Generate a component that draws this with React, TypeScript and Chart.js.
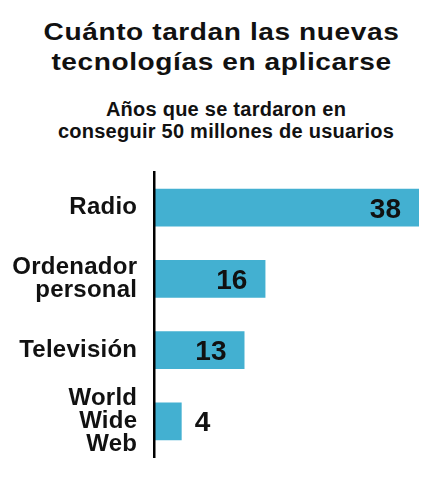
import { useEffect, useRef } from "react";
import Chart from "chart.js/auto";

const categories: (string | string[])[] = [
  "Radio",
  ["Ordenador", "personal"],
  "Televisión",
  ["World", "Wide", "Web"],
];
const years = [38, 16, 13, 4];
const xMax = 38;

const titleLines = ["Cuánto tardan las nuevas", "tecnologías en aplicarse"];
const subtitleLines = ["Años que se tardaron en", "conseguir 50 millones de usuarios"];

const FONT = '"Liberation Sans", Arial, Helvetica, sans-serif';
const BAR = "#43b0d1";
const INK = "#111";

// a touch of tracking, like the original lettering
const tracking = {
  id: "tracking",
  beforeDraw(chart: any) {
    chart.ctx.letterSpacing = "0.25px";
  },
};

const valueLabels = {
  id: "valueLabels",
  afterDatasetsDraw(chart: any) {
    const ctx = chart.ctx;
    const meta = chart.getDatasetMeta(0);
    ctx.save();
    ctx.letterSpacing = "0px";
    ctx.font = `bold 28px ${FONT}`;
    ctx.fillStyle = INK;
    ctx.textBaseline = "alphabetic";
    meta.data.forEach((bar: any, i: number) => {
      const text = String(years[i]);
      const w = ctx.measureText(text).width;
      const len = bar.x - bar.base;
      if (len > w + 36) {
        ctx.textAlign = "right";
        ctx.fillText(text, bar.x - 18, bar.y + 10);
      } else {
        ctx.textAlign = "left";
        ctx.fillText(text, bar.x + 13, bar.y + 10);
      }
    });
    ctx.restore();
  },
};

export default function App() {
  const ref = useRef<HTMLCanvasElement>(null);

  useEffect(() => {
    if (!ref.current) return;
    const ctx = ref.current.getContext("2d");
    if (!ctx) return;

    const chart = new Chart(ctx, {
      type: "bar",
      data: {
        labels: categories,
        datasets: [
          {
            data: years,
            backgroundColor: BAR,
            borderWidth: 0,
            barPercentage: 0.533,
            categoryPercentage: 1,
          },
        ],
      },
      options: {
        indexAxis: "y",
        animation: false,
        responsive: true,
        maintainAspectRatio: false,
        layout: { padding: { top: 12, bottom: 23, left: 0, right: 13 } },
        plugins: {
          legend: { display: false },
          tooltip: { enabled: false },
          title: { display: false },
        },
        scales: {
          x: { display: false, min: 0, max: xMax },
          y: {
            grid: { display: false, drawTicks: false },
            border: { display: true, color: "#000", width: 2.5, z: 1 },
            ticks: {
              autoSkip: false,
              padding: 16.5,
              color: INK,
              font: { family: FONT, size: 24, weight: "bold", lineHeight: 0.96 },
            },
            afterFit(axis: any) {
              axis.width = 153.75;
              // labels sit inside their bands, no extra room needed
              axis.paddingTop = 0;
              axis.paddingBottom = 0;
            },
          },
        },
      },
      plugins: [tracking, valueLabels],
    });

    return () => chart.destroy();
  }, []);

  return (
    <div
      style={{
        position: "absolute",
        left: 0,
        top: 0,
        width: 432,
        height: 480,
        background: "#fff",
        fontFamily: FONT,
        color: INK,
      }}
    >
      <div
        style={{
          position: "absolute",
          top: 16.7,
          left: 11,
          right: 0,
          textAlign: "center",
          fontSize: 24,
          fontWeight: 700,
          lineHeight: "30px",
          letterSpacing: "0.5px",
          whiteSpace: "nowrap",
          transform: "scaleX(1.17)",
          transformOrigin: "center",
        }}
      >
        {titleLines.map((t) => (
          <div key={t}>{t}</div>
        ))}
      </div>
      <div
        style={{
          position: "absolute",
          top: 97.8,
          left: 20,
          right: 0,
          textAlign: "center",
          fontSize: 20,
          fontWeight: 700,
          lineHeight: "22px",
          letterSpacing: "0.25px",
          whiteSpace: "nowrap",
        }}
      >
        {subtitleLines.map((t) => (
          <div key={t}>{t}</div>
        ))}
      </div>
      <div style={{ position: "absolute", left: 0, top: 160, width: 432, height: 320 }}>
        <canvas ref={ref}></canvas>
      </div>
    </div>
  );
}
